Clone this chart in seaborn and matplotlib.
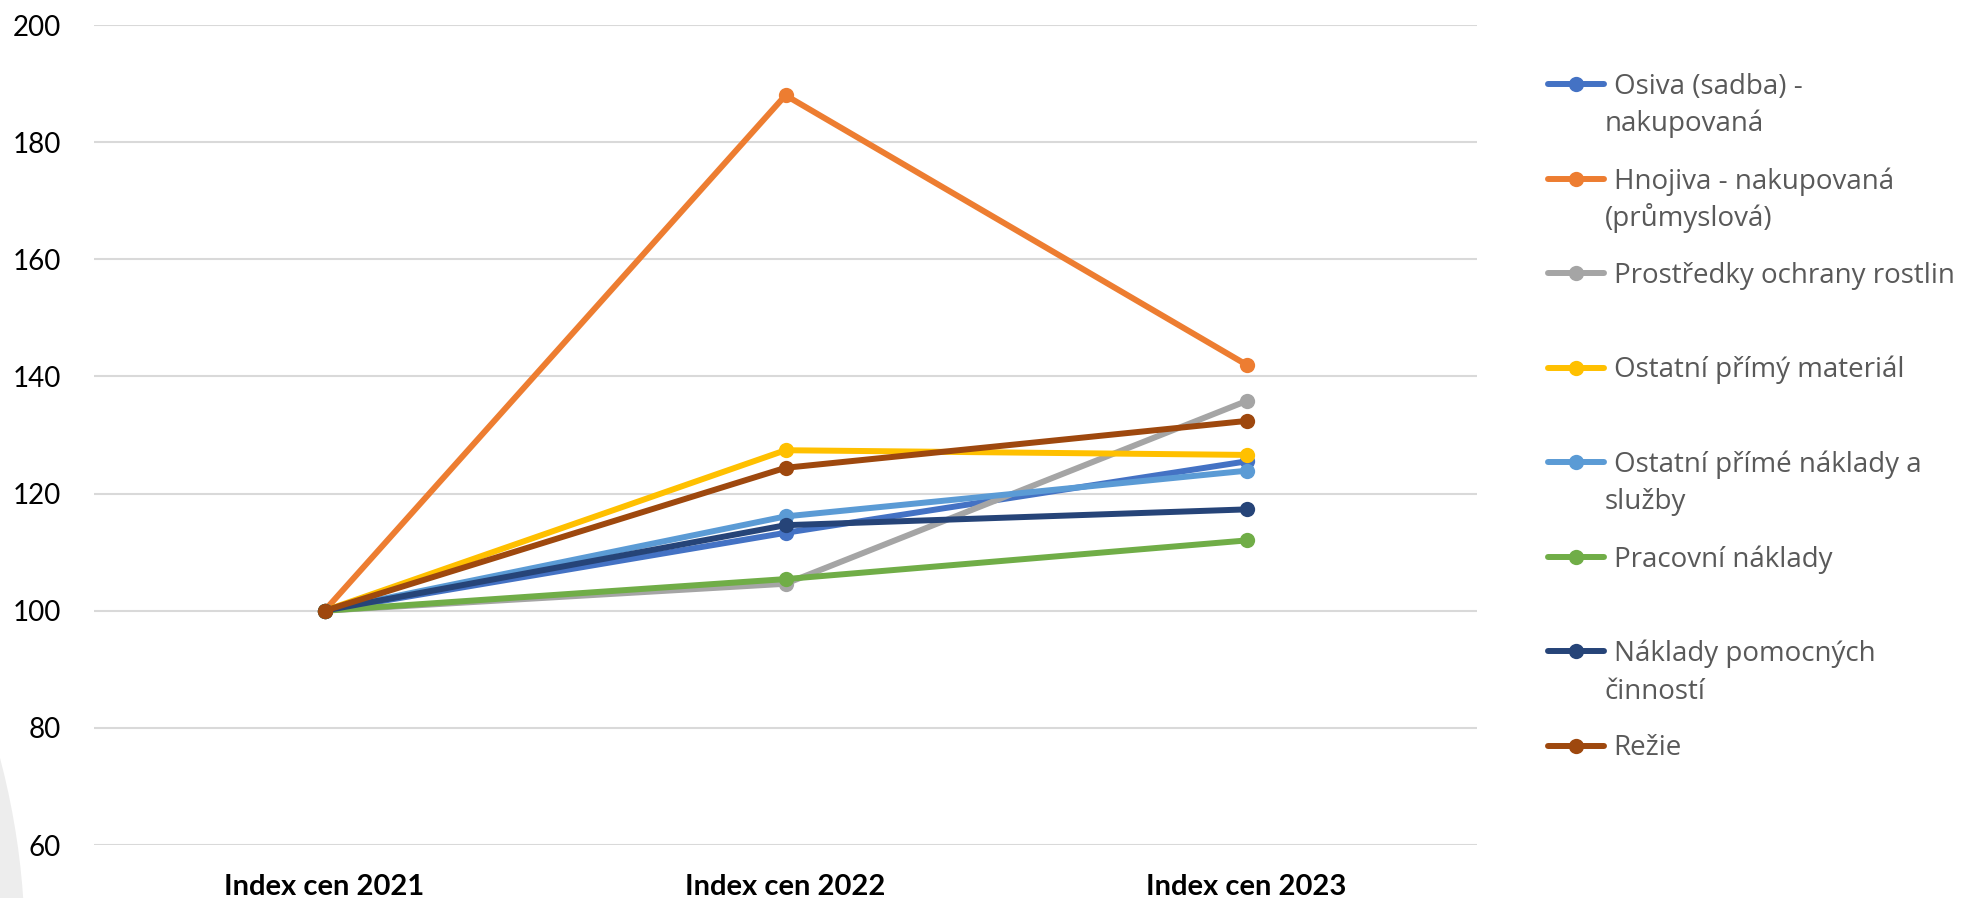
import pandas as pd
import matplotlib.pyplot as plt
import seaborn as sns
from matplotlib.patches import Ellipse

years = ["Index cen 2021", "Index cen 2022", "Index cen 2023"]
series = [
    "Osiva (sadba) -\nnakupovaná",
    "Hnojiva - nakupovaná\n(průmyslová)",
    "Prostředky ochrany rostlin",
    "Ostatní přímý materiál",
    "Ostatní přímé náklady a\nslužby",
    "Pracovní náklady",
    "Náklady pomocných\nčinností",
    "Režie",
]
osiva = [100, 113.3, 125.5]
hnojiva = [100, 188.0, 142.0]
ochrana = [100, 104.6, 135.8]
material = [100, 127.4, 126.6]
sluzby = [100, 116.1, 123.9]
pracovni = [100, 105.4, 112.0]
pomocne = [100, 114.6, 117.3]
rezie = [100, 124.4, 132.4]
colors = ["#4472C4", "#ED7D31", "#A5A5A5", "#FFC000",
          "#5B9BD5", "#70AD47", "#264478", "#9E480E"]

values = [osiva, hnojiva, ochrana, material, sluzby, pracovni, pomocne, rezie]
df = pd.DataFrame([
    {"rok": y, "index": v, "polozka": s}
    for s, vals in zip(series, values)
    for y, v in zip(years, vals)
])

sns.set_style("white")
plt.rcParams["font.family"] = ["Lato", "DejaVu Sans"]

W, H = 1962, 898
fig = plt.figure(figsize=(W / 100, H / 100), dpi=100)
# faint background arc in the lower left corner
fig.patches.append(Ellipse((-725 / W, (H - 950) / H), 1500 / W, 1500 / H,
                           transform=fig.transFigure, facecolor="#ededed",
                           edgecolor="none", zorder=-10))
ax = fig.add_axes([94 / W, 1 - 845 / H, (1477 - 94) / W, (845 - 25) / H])
ax.patch.set_alpha(0)

sns.lineplot(data=df, x="rok", y="index", hue="polozka", hue_order=series,
             palette=colors, marker="o", markersize=11, markeredgewidth=0,
             linewidth=4.3, sort=False, ax=ax, legend=True)

ax.set_xlim(-0.5, 2.5)
ax.set_ylim(60, 200)
ax.set_yticks(range(60, 201, 20))
ax.set_xlabel("")
ax.set_ylabel("")
ax.grid(axis="y", color="#d9d9d9", linewidth=1.5)
ax.set_axisbelow(True)
for sp in ax.spines.values():
    sp.set_visible(False)
ax.tick_params(axis="y", length=0, pad=24, labelsize=20, labelcolor="black")
ax.tick_params(axis="x", length=0, pad=21, labelsize=21, labelcolor="black")
for t in ax.get_xticklabels():
    t.set_fontweight("bold")

handles, labels = ax.get_legend_handles_labels()
ax.get_legend().remove()
first_lines = [l.split("\n")[0] for l in labels]
leg = fig.legend(handles, first_lines, loc="upper left",
                 bbox_to_anchor=(1548 / W, 1 - 73 / H), frameon=False,
                 prop={"family": ["Open Sans", "DejaVu Sans"], "size": 20},
                 labelcolor="#595959", handlelength=2.0, handletextpad=0.36,
                 labelspacing=2.38, borderaxespad=0, borderpad=0)

fig.canvas.draw()
for t, full in zip(leg.get_texts(), labels):
    if "\n" in full:
        bb = t.get_window_extent()
        fig.text((bb.x0 - 9) / W, (bb.y0 - 37.5) / H, full.split("\n")[1],
                 family=["Open Sans", "DejaVu Sans"], size=20, color="#595959",
                 ha="left", va="bottom")

fig.savefig("out.png", dpi=100)
